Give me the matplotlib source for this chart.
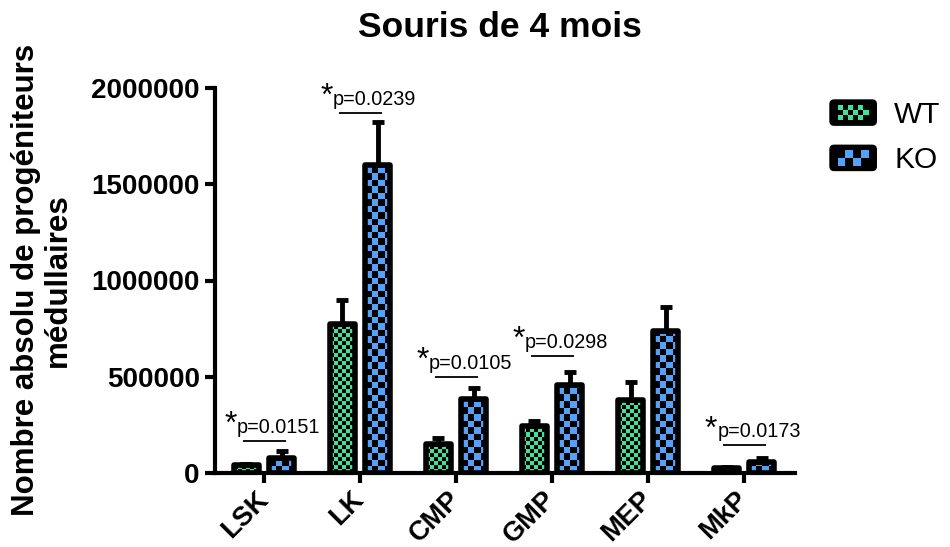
import numpy as np
import matplotlib
matplotlib.use("Agg")
import matplotlib.pyplot as plt
from matplotlib.colors import to_rgba
from matplotlib.patches import FancyBboxPatch, Rectangle, Patch
from matplotlib.legend_handler import HandlerBase

categories = ["LSK", "LK", "CMP", "GMP", "MEP", "MkP"]
wt_mean = [43000, 774000, 150000, 246000, 379000, 26000]
wt_sem = [3000, 125000, 32000, 22000, 94000, 4000]
ko_mean = [80000, 1601000, 386000, 459000, 738000, 57000]
ko_sem = [34000, 222000, 55000, 68000, 124000, 20000]

# significant WT vs KO comparisons
sig_groups = ["LSK", "LK", "CMP", "GMP", "MkP"]
sig_pvalues = ["0.0151", "0.0239", "0.0105", "0.0298", "0.0173"]
sig_heights = [166000, 1870000, 500000, 608000, 145000]

yticks = [0, 500000, 1000000, 1500000, 2000000]

wt_color = "#3de39c"
ko_color = "#55a1f7"

plt.rcParams["font.family"] = ["Liberation Sans", "DejaVu Sans"]

fig = plt.figure(figsize=(9.5, 5.47), dpi=100)
ax = fig.add_axes([215 / 950, 1 - 473 / 547, 580 / 950, 385 / 547])
xlim = (-0.51, 5.53)
ylim = (0, 2000000)
ax.set_xlim(xlim)
ax.set_ylim(ylim)

x = np.arange(len(categories))
width = 0.255
offset = 0.183
lw_bar = 4


def checker_fill(bars, color, cell_px):
    # fill each bar with a checkerboard (colour / black), cell size in pixels
    p0 = ax.transData.transform((0, 0))
    p1 = ax.transData.transform((1, 1))
    dx = cell_px / (p1[0] - p0[0])
    dy = cell_px / (p1[1] - p0[1])
    rgba = to_rgba(color)
    for bar in bars:
        bx, by = bar.get_x(), bar.get_y()
        bw, bh = bar.get_width(), bar.get_height()
        nx = int(np.ceil(bw / dx)) + 1
        ny = int(np.ceil(bh / dy)) + 1
        ii, jj = np.indices((ny, nx))
        img = np.zeros((ny, nx, 4))
        img[(ii + jj) % 2 == 0] = rgba
        img[(ii + jj) % 2 == 1] = (0, 0, 0, 1)
        im = ax.imshow(img, extent=(bx, bx + nx * dx, by, by + ny * dy),
                       origin="lower", interpolation="nearest",
                       aspect="auto", zorder=2.5)
        im.set_clip_path(bar)


wt_bars = ax.bar(x - offset, wt_mean, width, color="black", zorder=2)
ko_bars = ax.bar(x + offset, ko_mean, width, color="black", zorder=2)
checker_fill(wt_bars, wt_color, 4)
checker_fill(ko_bars, ko_color, 6.5)

# outlines on top of the pattern
ax.bar(x - offset, wt_mean, width, fill=False, edgecolor="black",
       linewidth=lw_bar, joinstyle="round", zorder=3)
ax.bar(x + offset, ko_mean, width, fill=False, edgecolor="black",
       linewidth=lw_bar, joinstyle="round", zorder=3)

ax.errorbar(x - offset, wt_mean, yerr=[np.zeros(len(x)), wt_sem], fmt="none",
            ecolor="black", elinewidth=3.5, capsize=4.3, capthick=3.5, zorder=4)
ax.errorbar(x + offset, ko_mean, yerr=[np.zeros(len(x)), ko_sem], fmt="none",
            ecolor="black", elinewidth=3.5, capsize=4.3, capthick=3.5, zorder=4)

for g, p, h in zip(sig_groups, sig_pvalues, sig_heights):
    xi = categories.index(g)
    ax.plot([xi - 0.22, xi + 0.23], [h, h], color="black", lw=1.3,
            solid_capstyle="butt", zorder=4)
    ax.annotate("p=" + p, xy=(xi - 0.28, h), xytext=(0, 5.5),
                textcoords="offset points", fontsize=14.3, ha="left",
                va="baseline")
    ax.annotate("*", xy=(xi - 0.41, h), xytext=(0, 5.5),
                textcoords="offset points", fontsize=23, ha="left",
                va="baseline")

ax.set_xlim(xlim)
ax.set_ylim(ylim)
ax.set_xticks(x)
ax.set_xticklabels([])
# rotated category labels, anchored just below each tick
for xi, cat in zip(x, categories):
    ax.annotate(cat, xy=(xi, 0), xycoords=("data", "axes fraction"),
                xytext=(-6.5, -9.5), textcoords="offset points",
                rotation=45, ha="right", va="top", rotation_mode="anchor",
                fontsize=19.5, fontweight="bold", annotation_clip=False)
ax.set_yticks(yticks)
ax.set_yticklabels([str(v) for v in yticks], fontsize=20, fontweight="bold")
ax.tick_params(width=3, length=7, direction="out", color="black", pad=4)
for side in ["top", "right"]:
    ax.spines[side].set_visible(False)
for side in ["left", "bottom"]:
    ax.spines[side].set_linewidth(3)

fig.text(500 / 950, 1 - 37 / 547, "Souris de 4 mois", fontsize=25.5,
         fontweight="bold", ha="center", va="baseline")
fig.text(42 / 950, 1 - 280 / 547,
         "Nombre absolu de progéniteurs\nmédullaires", fontsize=22.5,
         fontweight="bold", rotation=90, ha="center", va="center",
         multialignment="center", linespacing=1.1)


class CheckerHandler(HandlerBase):
    def __init__(self, color, nrows):
        super().__init__()
        self.color = color
        self.nrows = nrows

    def create_artists(self, legend, orig_handle, xdescent, ydescent,
                       width, height, fontsize, trans):
        x0, y0 = -xdescent, -ydescent
        box = FancyBboxPatch((x0, y0), width, height,
                             boxstyle="round,pad=0,rounding_size=3",
                             facecolor="black", edgecolor="black", lw=1,
                             transform=trans)
        artists = [box]
        inset_x, inset_y = 5, 3.5
        inner_h = height - 2 * inset_y
        cell = inner_h / self.nrows
        ncols = int((width - 2 * inset_x) / cell)
        start = x0 + (width - ncols * cell) / 2
        for i in range(self.nrows):
            for j in range(ncols):
                if (i + j) % 2 == 0:
                    artists.append(Rectangle(
                        (start + j * cell, y0 + inset_y + i * cell), cell, cell,
                        facecolor=self.color, edgecolor="none",
                        transform=trans))
        return artists


wt_handle = Patch(label="WT")
ko_handle = Patch(label="KO")
fig.legend([wt_handle, ko_handle], ["WT", "KO"],
           handler_map={wt_handle: CheckerHandler(wt_color, 3),
                        ko_handle: CheckerHandler(ko_color, 2)},
           loc="upper left", bbox_to_anchor=(830 / 950, 1 - 100 / 547),
           frameon=False, fontsize=21.5, handlelength=1.55, handleheight=0.92,
           handletextpad=0.6, labelspacing=0.55, borderpad=0,
           borderaxespad=0)

fig.savefig("out.png", dpi=100)
